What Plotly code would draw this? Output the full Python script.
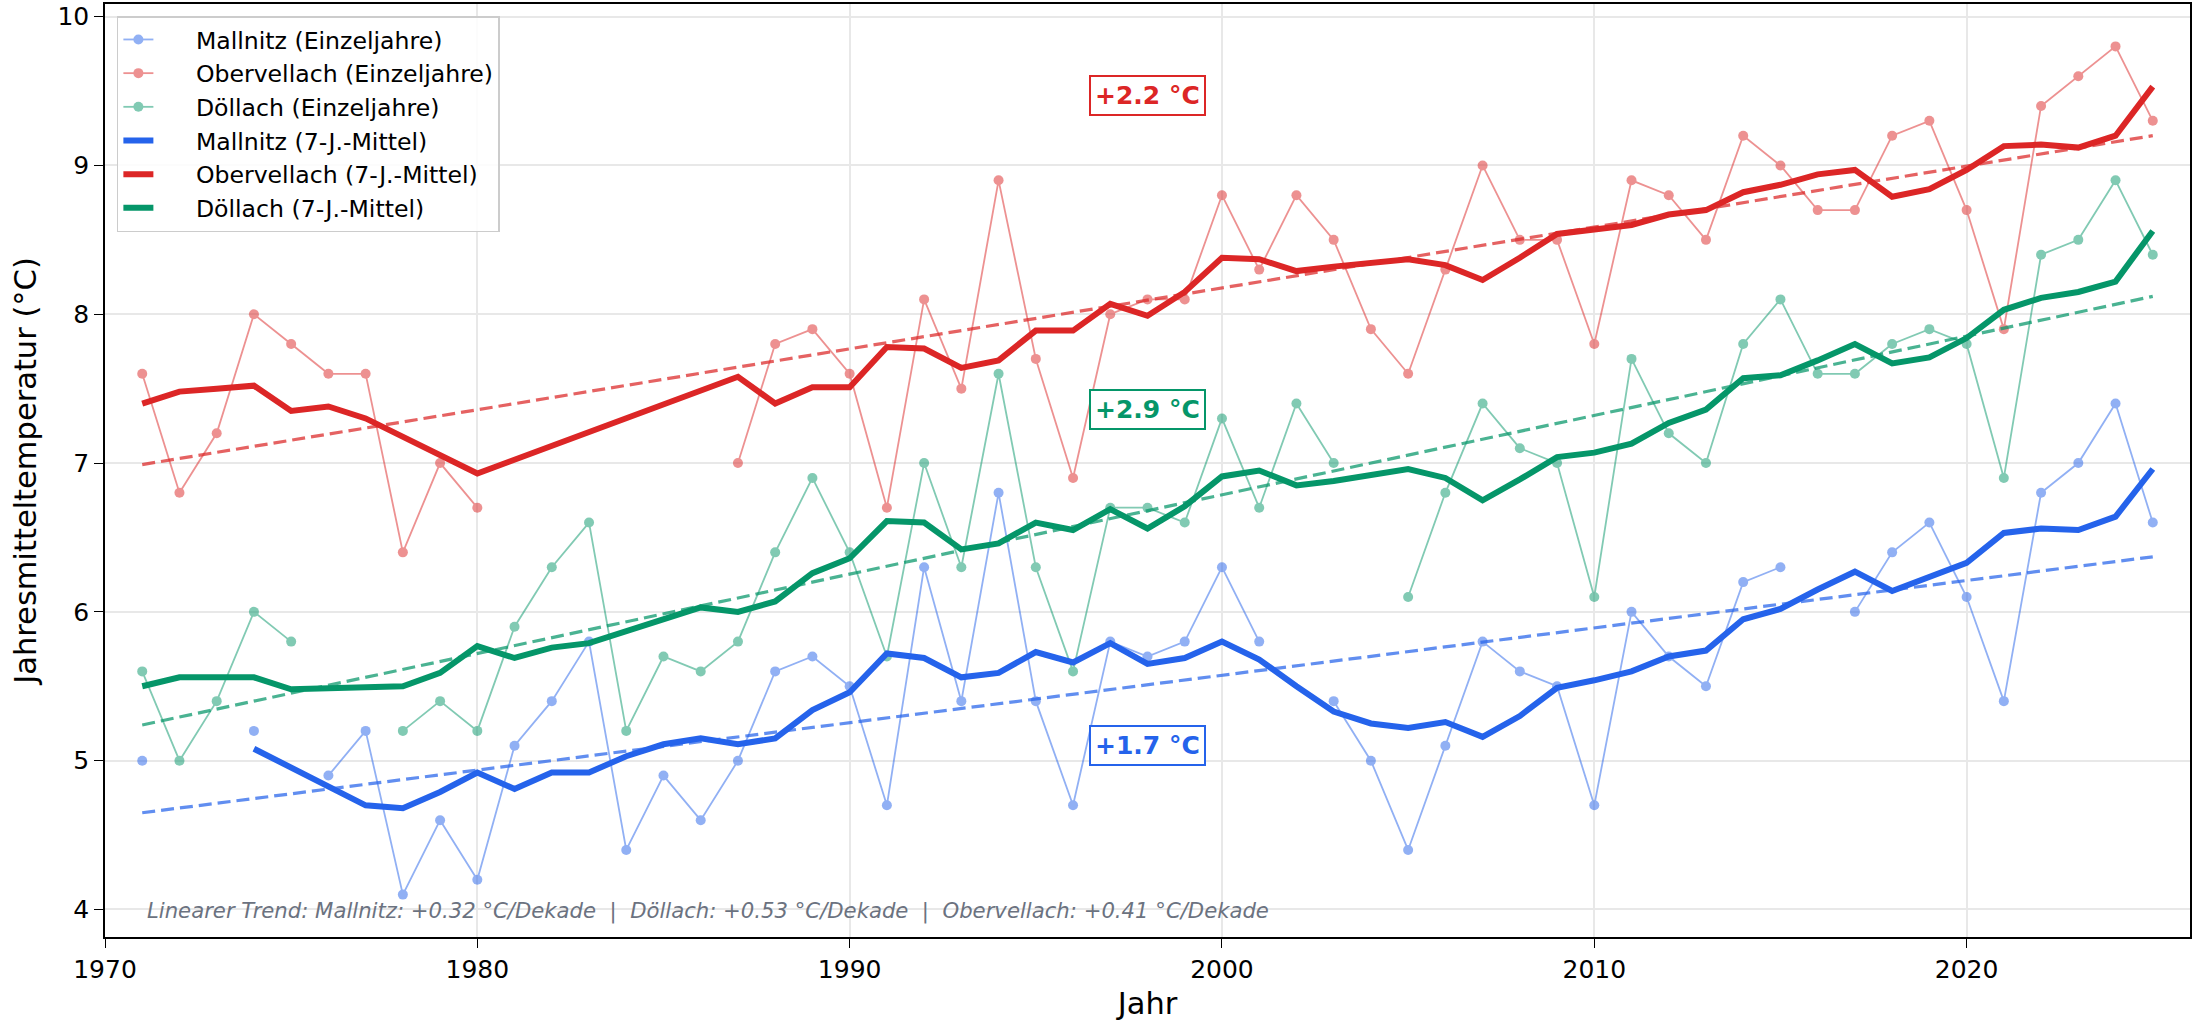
import plotly.graph_objects as go

# ---------------- data ----------------
years = list(range(1971, 2026))

mallnitz = [5.0, None, None, 5.2, None, 4.9, 5.2, 4.1, 4.6, 4.2,
            5.1, 5.4, 5.8, 4.4, 4.9, 4.6, 5.0, 5.6, 5.7, 5.5,
            4.7, 6.3, 5.4, 6.8, 5.4, 4.7, 5.8, 5.7, 5.8, 6.3,
            5.8, None, 5.4, 5.0, 4.4, 5.1, 5.8, 5.6, 5.5, 4.7,
            6.0, 5.7, 5.5, 6.2, 6.3, None, 6.0, 6.4, 6.6, 6.1,
            5.4, 6.8, 7.0, 7.4, 6.6]

mallnitz_mean = [None, None, None, 5.08, 4.95, 4.82, 4.70, 4.68, 4.79, 4.92,
                 4.81, 4.92, 4.92, 5.03, 5.11, 5.15, 5.11, 5.15, 5.34, 5.46,
                 5.72, 5.69, 5.56, 5.59, 5.73, 5.66, 5.79, 5.65, 5.69, 5.80,
                 5.68, 5.50, 5.33, 5.25, 5.22, 5.26, 5.16, 5.30, 5.49, 5.54,
                 5.60, 5.70, 5.74, 5.95, 6.02, 6.15, 6.27, 6.14, 6.23, 6.33,
                 6.53, 6.56, 6.55, 6.64, 6.96]

obervellach = [7.6, 6.8, 7.2, 8.0, 7.8, 7.6, 7.6, 6.4, 7.0, 6.7,
               None, None, None, None, None, None, 7.0, 7.8, 7.9, 7.6,
               6.7, 8.1, 7.5, 8.9, 7.7, 6.9, 8.0, 8.1, 8.1, 8.8,
               8.3, 8.8, 8.5, 7.9, 7.6, 8.3, 9.0, 8.5, 8.5, 7.8,
               8.9, 8.8, 8.5, 9.2, 9.0, 8.7, 8.7, 9.2, 9.3, 8.7,
               7.9, 9.4, 9.6, 9.8, 9.3]

obervellach_mean = [7.40, 7.48, 7.50, 7.52, 7.35, 7.38, 7.30, 7.18, 7.05, 6.93,
                    None, None, None, None, None, None, 7.58, 7.40, 7.51, 7.51,
                    7.78, 7.77, 7.64, 7.69, 7.89, 7.89, 8.07, 7.99, 8.15, 8.38,
                    8.37, 8.29, 8.32, 8.34, 8.37, 8.33, 8.23, 8.38, 8.54, 8.57,
                    8.60, 8.67, 8.70, 8.82, 8.87, 8.94, 8.97, 8.79, 8.84, 8.97,
                    9.13, 9.14, 9.12, 9.20, 9.53]

doellach = [5.6, 5.0, 5.4, 6.0, 5.8, None, None, 5.2, 5.4, 5.2,
            5.9, 6.3, 6.6, 5.2, 5.7, 5.6, 5.8, 6.4, 6.9, 6.4,
            5.7, 7.0, 6.3, 7.6, 6.3, 5.6, 6.7, 6.7, 6.6, 7.3,
            6.7, 7.4, 7.0, None, 6.1, 6.8, 7.4, 7.1, 7.0, 6.1,
            7.7, 7.2, 7.0, 7.8, 8.1, 7.6, 7.6, 7.8, 7.9, 7.8,
            6.9, 8.4, 8.5, 8.9, 8.4]

doellach_mean = [5.50, 5.56, 5.56, 5.56, 5.48, 5.49, 5.49, 5.50, 5.59, 5.77,
                 5.69, 5.76, 5.79, 5.87, 5.94, 6.03, 6.00, 6.07, 6.26, 6.36,
                 6.61, 6.60, 6.42, 6.46, 6.60, 6.55, 6.69, 6.56, 6.71, 6.91,
                 6.95, 6.85, 6.88, 6.92, 6.96, 6.90, 6.75, 6.89, 7.04, 7.07,
                 7.13, 7.27, 7.36, 7.57, 7.59, 7.69, 7.80, 7.67, 7.71, 7.84,
                 8.03, 8.11, 8.15, 8.22, 8.56]

trend_years = [1971, 2025]
trend_mallnitz = [4.65, 6.37]
trend_doellach = [5.24, 8.12]
trend_obervellach = [6.99, 9.20]

stations = ["Mallnitz", "Obervellach", "Döllach"]
labels_delta = ["+1.7 °C", "+2.2 °C", "+2.9 °C"]
label_y = [5.10, 9.47, 7.36]
label_x = 1998

x_ticks = [1970, 1980, 1990, 2000, 2010, 2020]
y_ticks = [4, 5, 6, 7, 8, 9, 10]

footnote = ("Linearer Trend: Mallnitz: +0.32 °C/Dekade  |  Döllach: +0.53 °C/Dekade"
            "  |  Obervellach: +0.41 °C/Dekade")

# ---------------- styles ----------------
colors = {"Mallnitz": "#2563eb", "Obervellach": "#dc2626", "Döllach": "#059669"}
single = {"Mallnitz": mallnitz, "Obervellach": obervellach, "Döllach": doellach}
means = {"Mallnitz": mallnitz_mean, "Obervellach": obervellach_mean, "Döllach": doellach_mean}
trends = {"Mallnitz": trend_mallnitz, "Obervellach": trend_obervellach, "Döllach": trend_doellach}

FONT = "DejaVu Sans"
PAD = "\u00a0" * 5  # spacing between legend symbol and text
fig = go.Figure()

for s in stations:
    fig.add_trace(go.Scatter(
        x=years, y=single[s], mode="lines+markers", name=f"{PAD}{s} (Einzeljahre)",
        line=dict(color=colors[s], width=1.8), marker=dict(size=10, color=colors[s]),
        opacity=0.5, connectgaps=False))

for s in stations:
    fig.add_trace(go.Scatter(
        x=trend_years, y=trends[s], mode="lines", showlegend=False,
        line=dict(color=colors[s], width=3.2, dash="13px,6px"), opacity=0.72,
        hoverinfo="skip"))

for s in stations:
    fig.add_trace(go.Scatter(
        x=years, y=means[s], mode="lines", name=f"{PAD}{s} (7-J.-Mittel)",
        line=dict(color=colors[s], width=6), connectgaps=True))

for s, txt, yv in zip(stations, labels_delta, label_y):
    fig.add_annotation(x=label_x, y=yv, xref="x", yref="y", text=f"<b>{txt}</b>",
                       showarrow=False, font=dict(family=FONT, size=25, color=colors[s]),
                       bgcolor="white", bordercolor=colors[s], borderwidth=2, borderpad=4)

fig.add_annotation(x=0.019, y=0.028, xref="paper", yref="paper", xanchor="left", yanchor="middle",
                   text=f"<i>{footnote}</i>", showarrow=False,
                   font=dict(family=FONT, size=21.2, color="#6b7280"))

axis_common = dict(showgrid=True, gridcolor="#e8e8e8", gridwidth=1.5, zeroline=False,
                   showline=True, linecolor="black", linewidth=1.5, mirror=True,
                   ticks="outside", ticklen=9, tickwidth=1.3, tickcolor="black",
                   tickfont=dict(family=FONT, size=25, color="black"))

fig.update_xaxes(range=[1970, 2026], tickvals=x_ticks,
                 title=dict(text="Jahr", font=dict(family=FONT, size=30.5, color="black"), standoff=10),
                 **axis_common)
fig.update_yaxes(range=[3.815, 10.085], tickvals=y_ticks,
                 title=dict(text="Jahresmitteltemperatur (°C)", font=dict(family=FONT, size=30.5, color="black"), standoff=12),
                 **axis_common)

fig.update_layout(
    width=2193, height=1024, autosize=False,
    margin=dict(l=105, r=1, t=4, b=87),
    plot_bgcolor="white", paper_bgcolor="white",
    font=dict(family=FONT, color="black"),
    legend=dict(x=0.0057, y=0.987, xanchor="left", yanchor="top",
                bgcolor="rgba(255,255,255,0.85)", bordercolor="#cccccc", borderwidth=1.5,
                font=dict(family=FONT, size=23.6, color="black"),
                tracegroupgap=0),
    showlegend=True,
)

fig.write_html("out.html", config={"displayModeBar": False},
               post_script="document.body.style.margin='0px';document.body.style.overflow='hidden';")
